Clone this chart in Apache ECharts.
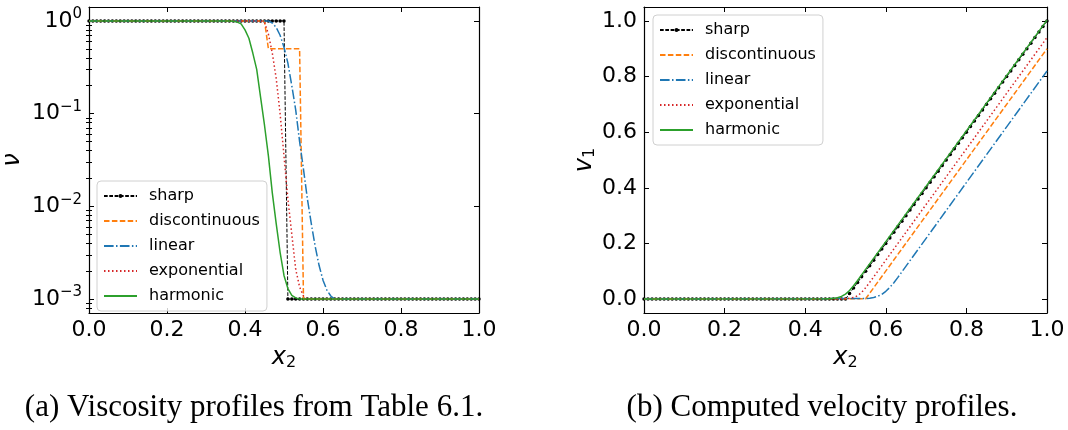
<!DOCTYPE html>
<html lang="en">
<head>
<meta charset="UTF-8">
<title>Viscosity and velocity profiles</title>
<script src="https://cdn.jsdelivr.net/npm/echarts@6/dist/echarts.min.js"></script>
<style>
  html, body { margin: 0; padding: 0; background: #fff; }
  #chart { width: 1068px; height: 430px; }
</style>
</head>
<body>
<div id="chart"></div>
<script>
// series names, in drawing order
const names = ['sharp', 'discontinuous', 'linear', 'exponential', 'harmonic'];

// tick values
const xTicks = [0, 0.2, 0.4, 0.6, 0.8, 1.0];
const nuTicks = [0.001, 0.01, 0.1, 1];
const nuMinor = [0.0007, 0.0008, 0.0009,
  0.002, 0.003, 0.004, 0.005, 0.006, 0.007, 0.008, 0.009,
  0.02, 0.03, 0.04, 0.05, 0.06, 0.07, 0.08, 0.09,
  0.2, 0.3, 0.4, 0.5, 0.6, 0.7, 0.8, 0.9];
const vTicks = [0, 0.2, 0.4, 0.6, 0.8, 1.0];

// sharp profile, sampled on the grid (markers)
const sharpX = [0, 0.01, 0.02, 0.03, 0.04, 0.05, 0.06, 0.07, 0.08, 0.09,
  0.1, 0.11, 0.12, 0.13, 0.14, 0.15, 0.16, 0.17, 0.18, 0.19,
  0.2, 0.21, 0.22, 0.23, 0.24, 0.25, 0.26, 0.27, 0.28, 0.29,
  0.3, 0.31, 0.32, 0.33, 0.34, 0.35, 0.36, 0.37, 0.38, 0.39,
  0.4, 0.41, 0.42, 0.43, 0.44, 0.45, 0.46, 0.47, 0.48, 0.49,
  0.5, 0.51, 0.52, 0.53, 0.54, 0.55, 0.56, 0.57, 0.58, 0.59,
  0.6, 0.61, 0.62, 0.63, 0.64, 0.65, 0.66, 0.67, 0.68, 0.69,
  0.7, 0.71, 0.72, 0.73, 0.74, 0.75, 0.76, 0.77, 0.78, 0.79,
  0.8, 0.81, 0.82, 0.83, 0.84, 0.85, 0.86, 0.87, 0.88, 0.89,
  0.9, 0.91, 0.92, 0.93, 0.94, 0.95, 0.96, 0.97, 0.98, 0.99, 1];
const sharpNu = [1, 1, 1, 1, 1, 1, 1, 1, 1, 1,
  1, 1, 1, 1, 1, 1, 1, 1, 1, 1,
  1, 1, 1, 1, 1, 1, 1, 1, 1, 1,
  1, 1, 1, 1, 1, 1, 1, 1, 1, 1,
  1, 1, 1, 1, 1, 1, 1, 1, 1, 1,
  1, 0.001, 0.001, 0.001, 0.001, 0.001, 0.001, 0.001, 0.001, 0.001,
  0.001, 0.001, 0.001, 0.001, 0.001, 0.001, 0.001, 0.001, 0.001, 0.001,
  0.001, 0.001, 0.001, 0.001, 0.001, 0.001, 0.001, 0.001, 0.001, 0.001,
  0.001, 0.001, 0.001, 0.001, 0.001, 0.001, 0.001, 0.001, 0.001, 0.001,
  0.001, 0.001, 0.001, 0.001, 0.001, 0.001, 0.001, 0.001, 0.001, 0.001, 0.001];
const sharpV = [0, 0, 0, 0, 0, 0, 0, 0, 0, 0,
  0, 0, 0, 0, 0, 0, 0, 0, 0, 0,
  0, 0, 0, 0, 0, 0, 0, 0, 0, 0,
  0, 0, 0, 0, 0, 0, 0, 0, 0, 0,
  0, 0, 0, 0, 0, 0, 0, 0, 0, 0,
  0, 0.02, 0.04, 0.06, 0.08, 0.10, 0.12, 0.14, 0.16, 0.18,
  0.20, 0.22, 0.24, 0.26, 0.28, 0.30, 0.32, 0.34, 0.36, 0.38,
  0.40, 0.42, 0.44, 0.46, 0.48, 0.50, 0.52, 0.54, 0.56, 0.58,
  0.60, 0.62, 0.64, 0.66, 0.68, 0.70, 0.72, 0.74, 0.76, 0.78,
  0.80, 0.82, 0.84, 0.86, 0.88, 0.90, 0.92, 0.94, 0.96, 0.98, 1.00];

// (a) viscosity profiles
const discX = [0, 0.45, 0.46, 0.54, 0.55, 1];
const discNu = [1, 1, 0.5, 0.5, 0.001, 0.001];
const linX = [0, 0.46, 0.47, 0.48, 0.49, 0.50, 0.51, 0.52, 0.53, 0.54, 0.55, 0.56, 0.57, 0.58, 0.59, 0.60, 0.61, 0.62, 0.63, 1];
const linNu = [1, 1, 0.95, 0.85, 0.7, 0.52, 0.35, 0.2, 0.11, 0.05, 0.025, 0.012, 0.0065, 0.0037, 0.0023, 0.0016, 0.00125, 0.00108, 0.001, 0.001];
const expX = [0, 0.44, 0.45, 0.46, 0.47, 0.48, 0.49, 0.50, 0.51, 0.52, 0.53, 0.54, 0.55, 0.56, 1];
const expNu = [1, 1, 0.97, 0.72, 0.45, 0.24, 0.1, 0.035, 0.012, 0.005, 0.0021, 0.00135, 0.00108, 0.001, 0.001];
const harX = [0, 0.36, 0.37, 0.38, 0.39, 0.40, 0.41, 0.42, 0.43, 0.44, 0.45, 0.46, 0.47, 0.48, 0.49, 0.50, 0.51, 0.52, 0.53, 0.54, 1];
const harNu = [1, 1, 0.99, 0.97, 0.93, 0.8, 0.65, 0.45, 0.3, 0.15, 0.075, 0.035, 0.014, 0.0065, 0.0032, 0.0018, 0.0013, 0.0011, 0.00103, 0.001, 0.001];

// (b) velocity profiles
const discVX = [0, 0.55, 1];
const discV = [0, 0.001, 0.9];
const linVX = [0, 0.55, 0.56, 0.57, 0.58, 0.59, 0.60, 0.61, 0.62, 0.63, 1];
const linV = [0, 0.002, 0.0034, 0.0058, 0.010, 0.017, 0.028, 0.042, 0.059, 0.078, 0.82];
const expVX = [0, 0.50, 0.51, 0.52, 0.53, 0.54, 0.55, 0.56, 1];
const expV = [0, 0.0016, 0.003, 0.0055, 0.012, 0.024, 0.041, 0.06, 0.94];
const harVX = [0, 0.45, 0.46, 0.47, 0.48, 0.49, 0.50, 0.51, 0.52, 0.53, 0.54, 1];
const harV = [0, 0.0012, 0.0016, 0.0026, 0.0049, 0.0096, 0.018, 0.031, 0.048, 0.067, 0.087, 1.003];

const FONT = 'DejaVu Sans';
const styles = {
  sharp: { color: '#000000', width: 1, type: [3.7, 1.6] },
  discontinuous: { color: '#ff7f0e', width: 1.5, type: [5.5, 2.4] },
  linear: { color: '#1f77b4', width: 1.5, type: [9.6, 2.4, 1.5, 2.4] },
  exponential: { color: '#d62728', width: 1.5, type: [1.5, 2.5] },
  harmonic: { color: '#2ca02c', width: 1.5, type: 'solid' }
};

function pairs(xs, ys) {
  return xs.map(function (x, i) { return [x, ys[i]]; });
}

function makeSeries(name, data, xi, yi, z) {
  const st = styles[name];
  const s = {
    name: name,
    type: 'line',
    xAxisIndex: xi,
    yAxisIndex: yi,
    data: data,
    z: z,
    color: st.color,
    lineStyle: { color: st.color, width: st.width, type: st.type },
    symbol: 'none',
    animation: false,
    silent: true
  };
  if (name === 'sharp') {
    s.symbol = 'circle';
    s.symbolSize = 3.5;
    s.showSymbol = true;
    s.itemStyle = { color: '#000' };
  }
  return s;
}

const series = [
  makeSeries('sharp', pairs(sharpX, sharpNu), 0, 0, 2),
  makeSeries('discontinuous', pairs(discX, discNu), 0, 0, 3),
  makeSeries('linear', pairs(linX, linNu), 0, 0, 4),
  makeSeries('exponential', pairs(expX, expNu), 0, 0, 5),
  makeSeries('harmonic', pairs(harX, harNu), 0, 0, 6),
  makeSeries('sharp', pairs(sharpX, sharpV), 2, 4, 2),
  makeSeries('discontinuous', pairs(discVX, discV), 2, 4, 3),
  makeSeries('linear', pairs(linVX, linV), 2, 4, 4),
  makeSeries('exponential', pairs(expVX, expV), 2, 4, 5),
  makeSeries('harmonic', pairs(harVX, harV), 2, 4, 6)
];

const lineSt = { show: true, onZero: false, lineStyle: { color: '#000', width: 1.2 } };
const noLine = { show: false };

function xAx(grid, pos, labels) {
  return {
    type: 'value', gridIndex: grid, position: pos, min: 0, max: 1,
    axisLine: lineSt,
    splitLine: { show: false },
    axisTick: { show: true, inside: true, length: 5, customValues: xTicks, lineStyle: { color: '#000', width: 1 } },
    axisLabel: {
      show: labels, customValues: xTicks, margin: 6, color: '#000', fontFamily: FONT, fontSize: 22,
      formatter: function (v) { return v.toFixed(1); }
    },
    name: labels ? '{i|x}{s|2}' : '',
    nameLocation: 'middle',
    nameGap: 28,
    nameTextStyle: {
      rich: {
        i: { fontFamily: FONT, fontStyle: 'italic', fontSize: 24, color: '#000' },
        s: { fontFamily: FONT, fontSize: 16, color: '#000', padding: [10, 0, 0, 0] }
      }
    }
  };
}

const LOG_MIN = 0.000708, LOG_MAX = 1.4125;

function supText(v) {
  const e = Math.round(Math.log10(v));
  return '{b|10}{s|' + (e < 0 ? '\u2212' + (-e) : e) + '}';
}

function nuAx(pos, ticks, len, labels, line) {
  return {
    type: 'log', gridIndex: 0, position: pos, min: LOG_MIN, max: LOG_MAX, logBase: 10,
    axisLine: line ? lineSt : noLine,
    splitLine: { show: false },
    axisTick: { show: true, inside: true, length: len, customValues: ticks, lineStyle: { color: '#000', width: 1 } },
    axisLabel: {
      show: labels, customValues: ticks, margin: 7, color: '#000',
      formatter: supText,
      rich: {
        b: { fontFamily: FONT, fontSize: 22, color: '#000' },
        s: { fontFamily: FONT, fontSize: 15, color: '#000', padding: [0, 0, 13, 0] }
      }
    },
    name: labels ? '{i|\u03bd}' : '',
    nameLocation: 'middle',
    nameRotate: 90,
    nameGap: 64,
    nameTextStyle: { rich: { i: { fontFamily: FONT, fontStyle: 'italic', fontSize: 24, color: '#000' } } }
  };
}

function vAx(pos, labels) {
  return {
    type: 'value', gridIndex: 1, position: pos, min: -0.05, max: 1.05,
    axisLine: lineSt,
    splitLine: { show: false },
    axisTick: { show: true, inside: true, length: 5, customValues: vTicks, lineStyle: { color: '#000', width: 1 } },
    axisLabel: {
      show: labels, customValues: vTicks, margin: 7, color: '#000', fontFamily: FONT, fontSize: 22,
      formatter: function (v) { return v.toFixed(1); }
    },
    name: labels ? '{i|v}{s|1}' : '',
    nameLocation: 'middle',
    nameRotate: 90,
    nameGap: 40,
    nameTextStyle: {
      rich: {
        i: { fontFamily: FONT, fontStyle: 'italic', fontSize: 24, color: '#000' },
        s: { fontFamily: FONT, fontSize: 16, color: '#000', padding: [10, 0, 0, 0] }
      }
    }
  };
}

// legend entries: only "sharp" keeps its marker
const legendData = names.map(function (n) {
  return n === 'sharp' ? { name: n } : { name: n, itemStyle: { opacity: 0 } };
});

function legendAt(left, top) {
  return {
    data: legendData, orient: 'vertical', left: left, top: top,
    itemWidth: 33, itemHeight: 5, itemGap: 9,
    padding: [7, 7, 7, 6],
    backgroundColor: 'rgba(255,255,255,0.8)',
    borderColor: '#d0d0d0', borderWidth: 1, borderRadius: 4,
    selectedMode: false,
    textStyle: { fontFamily: FONT, fontSize: 16, color: '#000', lineHeight: 14, padding: [0, 0, 0, 7] }
  };
}

const CAP_FONT = '31px "Liberation Serif"';

const option = {
  animation: false,
  backgroundColor: '#fff',
  grid: [
    { left: 89, top: 7, width: 390, height: 306 },
    { left: 644, top: 7, width: 403, height: 306 }
  ],
  xAxis: [xAx(0, 'bottom', true), xAx(0, 'top', false), xAx(1, 'bottom', true), xAx(1, 'top', false)],
  yAxis: [
    nuAx('left', nuTicks, 5, true, true),
    nuAx('left', nuMinor, 3, false, false),
    nuAx('right', nuTicks, 5, false, true),
    nuAx('right', nuMinor, 3, false, false),
    vAx('left', true),
    vAx('right', false)
  ],
  legend: [legendAt(97, 181), legendAt(653, 15)],
  graphic: [
    {
      type: 'text', x: 254, y: 408,
      style: { text: '(a) Viscosity profiles from Table 6.1.', font: CAP_FONT, fill: '#000', textAlign: 'center', textVerticalAlign: 'middle' }
    },
    {
      type: 'text', x: 822, y: 408,
      style: { text: '(b) Computed velocity profiles.', font: CAP_FONT, fill: '#000', textAlign: 'center', textVerticalAlign: 'middle' }
    }
  ],
  series: series
};

const chart = echarts.init(document.getElementById('chart'));
chart.setOption(option);
</script>
</body>
</html>
